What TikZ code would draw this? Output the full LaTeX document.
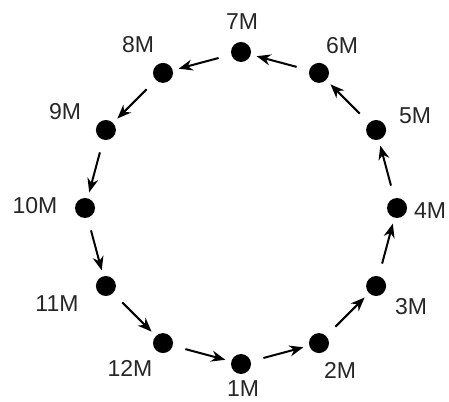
\documentclass[tikz,border=0pt]{standalone}
\usepackage{fontspec}
\setmainfont{Liberation Sans}
\usetikzlibrary{arrows.meta,calc}
\begin{document}
\begin{tikzpicture}[x=1pt,y=1pt,
  dot/.style={circle,fill=black,inner sep=0pt,minimum size=20pt},
  lbl/.style={inner sep=0pt,font=\fontsize{23}{23}\selectfont,text=black!85},
  conn/.style={line width=2pt,-{Stealth[length=14pt,width=11pt]},shorten <=13pt,shorten >=6pt}]
\useasboundingbox (0,0) rectangle (449,401);
\foreach \k/\a in {7/90,6/60,5/30,4/0,3/-30,2/-60,1/-90,12/-120,11/-150,10/180,9/150,8/120}
  \node[dot] (d\k) at ($(241,193)+(\a:156)$) {};
\node[lbl] (l7) at (242,379) {7M};
\node[lbl] (l6) at (342,355) {6M};
\node[lbl] (l5) at (415,285) {5M};
\node[lbl] (l4) at (430,190) {4M};
\node[lbl] (l3) at (411,94) {3M};
\node[lbl] (l2) at (340,31) {2M};
\node[lbl] (l1) at (243,12) {1M};
\node[lbl] (l12) at (130,33) {12M};
\node[lbl] (l11) at (57,97) {11M};
\node[lbl] (l10) at (35,195) {10M};
\node[lbl] (l9) at (65,289) {9M};
\node[lbl] (l8) at (138,356) {8M};
\foreach \a/\b in {1/2,2/3,3/4,4/5,5/6,6/7,7/8,8/9,9/10,10/11,11/12,12/1}
  \draw[conn] (d\a) -- (d\b);
\end{tikzpicture}
\end{document}
